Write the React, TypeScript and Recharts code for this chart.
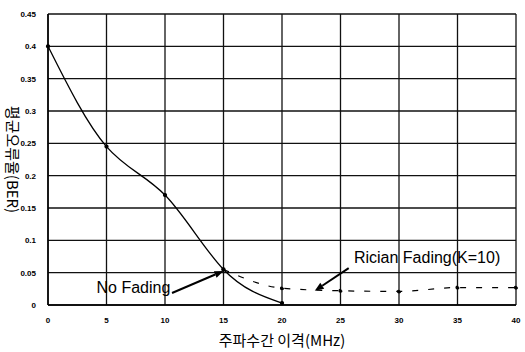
import React from "react";
import {
  LineChart, Line, XAxis, YAxis, CartesianGrid, ReferenceLine, ReferenceDot, Label,
} from "recharts";

// frequency separation (MHz)
const spacing = [0, 5, 10, 15, 20, 25, 30, 35, 40];
const noFading = [0.4, 0.245, 0.17, 0.055, 0.003, null, null, null, null];
const rician = [null, null, null, 0.055, 0.026, 0.022, 0.021, 0.027, 0.027];

const xTicks = [0, 5, 10, 15, 20, 25, 30, 35, 40];
const yTicks = [0, 0.05, 0.1, 0.15, 0.2, 0.25, 0.3, 0.35, 0.4, 0.45];

const data = spacing.map((x, i) => ({ x, noFading: noFading[i], rician: rician[i] }));

const arrow = (props: any) => {
  const { x1, y1, x2, y2 } = props;
  const ang = Math.atan2(y2 - y1, x2 - x1);
  const len = 9;
  const w = 3.5;
  const bx = x2 - len * Math.cos(ang);
  const by = y2 - len * Math.sin(ang);
  const px = -Math.sin(ang) * w;
  const py = Math.cos(ang) * w;
  return (
    <g>
      <line x1={x1} y1={y1} x2={bx} y2={by} stroke="#000" strokeWidth={2} />
      <polygon points={`${x2},${y2} ${bx + px},${by + py} ${bx - px},${by - py}`} fill="#000" />
    </g>
  );
};

const note = (text: string) => (props: any) => (
  <text
    x={props.cx}
    y={props.cy}
    textAnchor="middle"
    dominantBaseline="central"
    fontSize={16}
    fontFamily="'Liberation Sans Narrow', 'Liberation Sans', Arial, sans-serif"
    fill="#000"
  >
    {text}
  </text>
);

const tickStyle = {
  fontSize: 8,
  fontWeight: 700,
  fill: "#000",
  fontFamily: "'Liberation Sans Narrow', 'Liberation Sans', Arial, sans-serif",
};

export default function App() {
  return (
    <div style={{ position: "absolute", left: 0, top: 0, background: "#fff" }}>
      <LineChart
        width={525}
        height={352}
        data={data}
        margin={{ top: 14, right: 9, bottom: 0, left: 0 }}
      >
        <CartesianGrid stroke="#111" strokeWidth={1.3} />
        <XAxis
          dataKey="x"
          type="number"
          domain={[0, 40]}
          ticks={xTicks}
          tick={tickStyle}
          tickLine={false}
          axisLine={{ stroke: "#000", strokeWidth: 1.5 }}
          height={47}
          tickMargin={6}
        >
          <Label
            value="주파수간 이격(MHz)"
            position="insideBottom"
            offset={6}
            style={{ fontSize: 15, fill: "#000", fontFamily: "'Noto Sans CJK KR', sans-serif" }}
          />
        </XAxis>
        <YAxis
          type="number"
          domain={[0, 0.45]}
          ticks={yTicks}
          tick={tickStyle}
          tickLine={false}
          axisLine={{ stroke: "#000", strokeWidth: 1.5 }}
          width={48}
          tickMargin={6}
        >
          <Label
            value="평균오류율(BER)"
            angle={90}
            position="insideLeft"
            offset={12}
            style={{ fontSize: 15, fill: "#000", fontFamily: "'Noto Sans CJK KR', sans-serif", textAnchor: "middle" }}
          />
        </YAxis>
        <Line
          dataKey="noFading"
          type="natural"
          stroke="#000"
          strokeWidth={1.3}
          dot={{ r: 1.5, fill: "#000", stroke: "#000" }}
          isAnimationActive={false}
        />
        <Line
          dataKey="rician"
          type="monotone"
          stroke="#000"
          strokeWidth={1.2}
          strokeDasharray="6 10"
          dot={{ r: 1.5, fill: "#000", stroke: "#000" }}
          isAnimationActive={false}
        />
        <ReferenceLine segment={[{ x: 10.6, y: 0.0186 }, { x: 15.0, y: 0.0526 }]} shape={arrow} />
        <ReferenceLine segment={[{ x: 25.7, y: 0.057 }, { x: 22.8, y: 0.022 }]} shape={arrow} />
        <ReferenceDot x={7.3} y={0.027} r={0} shape={note("No Fading")} />
        <ReferenceDot x={32.4} y={0.073} r={0} shape={note("Rician Fading(K=10)")} />
      </LineChart>
    </div>
  );
}
